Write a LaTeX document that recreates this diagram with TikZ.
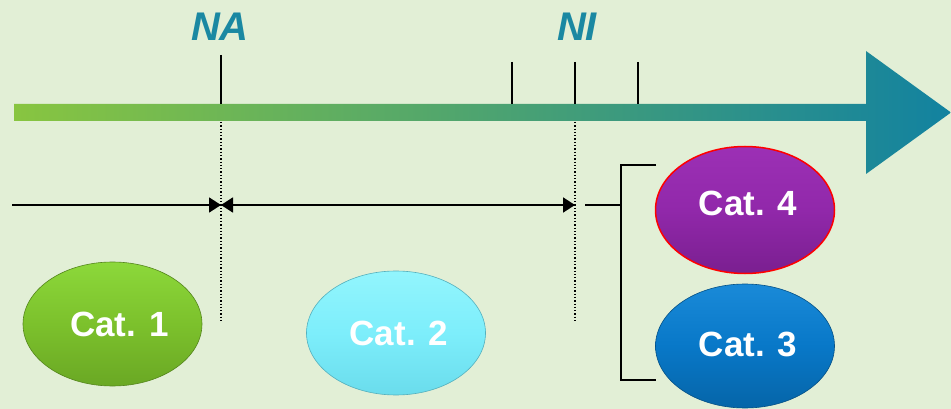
\documentclass[tikz,border=0pt]{standalone}
\usepackage{fontspec}
\setmainfont{Liberation Sans}
\usetikzlibrary{shapes.geometric,arrows.meta}
\definecolor{bg}{HTML}{E2EFD6}
\definecolor{tealtxt}{HTML}{1A88A2}
\definecolor{gleft}{HTML}{88C540}
\definecolor{gmid}{HTML}{62A57C}
\definecolor{gright}{HTML}{1282A0}
\definecolor{cgreen}{HTML}{7CC12C}
\definecolor{cgreenl}{HTML}{8CD83A}
\definecolor{cgreend}{HTML}{6AA824}
\definecolor{ccyan}{HTML}{7DEEFB}
\definecolor{ccyanl}{HTML}{92F5FD}
\definecolor{ccyand}{HTML}{6ADCEC}
\definecolor{cpurp}{HTML}{9128AA}
\definecolor{cpurpl}{HTML}{9C30B5}
\definecolor{cpurpd}{HTML}{7A1F90}
\definecolor{cblue}{HTML}{0878C8}
\definecolor{cbluel}{HTML}{1A8AD8}
\definecolor{cblued}{HTML}{0665A8}
\begin{document}
\begin{tikzpicture}[x=1pt,y=-1pt,
  lab/.style={font=\bfseries\itshape\fontsize{40}{40}\selectfont, text=tealtxt, inner sep=0pt},
  cat/.style={ellipse, minimum width=179pt, minimum height=124pt, inner sep=0pt,
     font=\bfseries\fontsize{35}{35}\selectfont, text=white},
  tick/.style={line width=1.4pt},
  dim/.style={line width=1.8pt},
  tip/.style={-{Triangle[length=12pt,width=15pt]}},
  dots/.style={dotted, line width=1.3pt}]
\fill[bg] (0,0) rectangle (951,409);
\useasboundingbox (0,0) rectangle (951,409);
% main arrow
\shade[left color=gleft, middle color=gmid, right color=gright]
  (14,104) -- (866,104) -- (866,51) -- (951,112.5) -- (866,174) -- (866,121) -- (14,121) -- cycle;
% labels
\node[lab] (na) at (220,27) {NA};
\node[lab] (ni) at (577,27) {NI};
% ticks
\coordinate (naT) at (221,55); \coordinate (naB) at (221,104);
\coordinate (t1T) at (512,62); \coordinate (t1B) at (512,104);
\coordinate (t2T) at (575,62); \coordinate (t2B) at (575,104);
\coordinate (t3T) at (638,62); \coordinate (t3B) at (638,104);
\draw[tick] (naT) -- (naB);
\draw[tick] (t1T) -- (t1B);
\draw[tick] (t2T) -- (t2B);
\draw[tick] (t3T) -- (t3B);
% dotted
\coordinate (naD1) at (221,122); \coordinate (naD2) at (221,322);
\coordinate (niD1) at (575,122); \coordinate (niD2) at (575,322);
\draw[dots] (naD1) -- (naD2);
\draw[dots] (niD1) -- (niD2);
% horizontal arrows
\coordinate (h0) at (12,205);
\coordinate (hA) at (221,205);
\coordinate (hB) at (575,205);
\coordinate (hC) at (585,205);
\coordinate (hD) at (621,205);
\draw[dim,tip] (h0) -- (hA);
\draw[dim,tip] (hA) -- (hB);
\draw[dim,tip] (hB) -- (hA);
% ellipses
\node[cat, top color=cgreenl, bottom color=cgreend, middle color=cgreen, draw=cgreend!80!black, line width=0.6pt] (c1) at (112.5,324) {\hspace{14pt}Cat. 1};
\node[cat, top color=ccyanl, bottom color=ccyand, middle color=ccyan, draw=ccyand!80!black, line width=0.6pt] (c2) at (396,333) {\hspace{6pt}Cat. 2};
\node[cat, top color=cpurpl, bottom color=cpurpd, middle color=cpurp, draw=red, line width=1.5pt, minimum height=127pt] (c4) at (745,210) {\raisebox{14pt}{\hspace{6pt}Cat. 4}};
\node[cat, top color=cbluel, bottom color=cblued, middle color=cblue, draw=cblued!80!black, line width=0.6pt] (c3) at (745,346) {\raisebox{4pt}{\hspace{6pt}Cat. 3}};
% bracket
\coordinate (bT) at (621,165); \coordinate (bB) at (621,380);
\coordinate (bT2) at (656,165); \coordinate (bB2) at (656,380);
\draw[dim] (hC) -- (hD);
\draw[dim] (bT2) -- (bT) -- (bB) -- (bB2);
\end{tikzpicture}
\end{document}
